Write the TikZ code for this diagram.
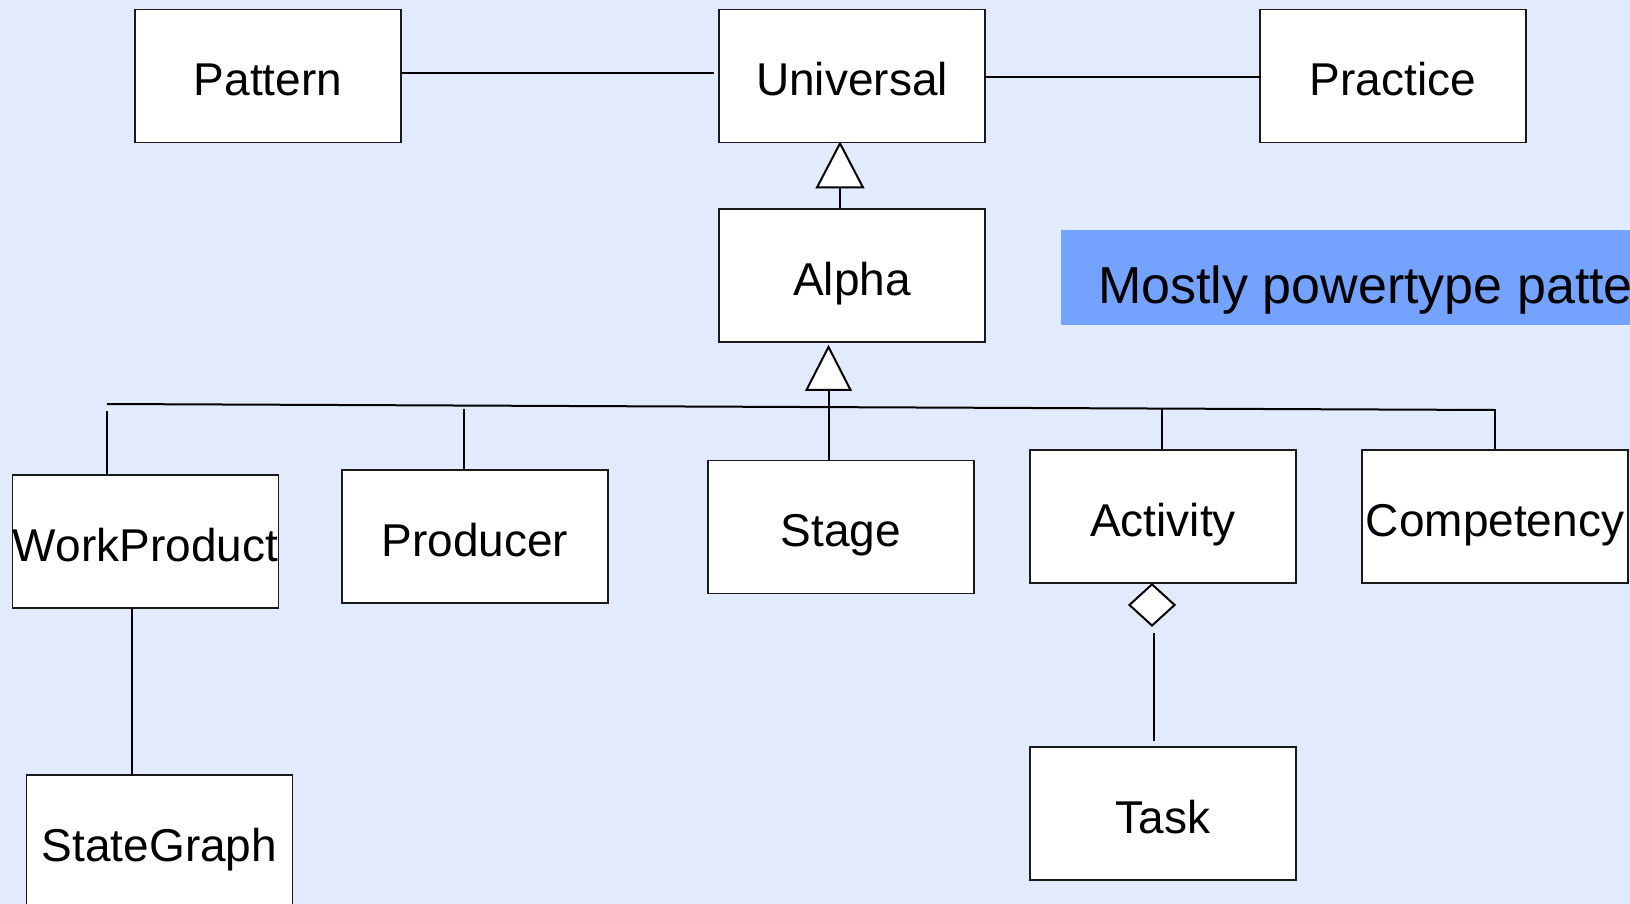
\documentclass[tikz,border=0pt]{standalone}
\usepackage{fontspec}
\setmainfont{Liberation Sans}
\usetikzlibrary{calc,shapes.geometric}
\definecolor{paper}{HTML}{E2EBFD}
\definecolor{banner}{HTML}{73A2FF}
\definecolor{edge}{HTML}{1A1A1A}
\tikzset{
  classbox/.style={draw=edge, fill=white, line width=1.9pt, rectangle,
    minimum width=266pt, minimum height=133pt, inner sep=0pt,
    text height=39pt, text depth=0pt,
    font=\fontsize{46}{50}\selectfont},
  link/.style={draw=black, line width=2pt},
  genhead/.style={draw=black, fill=white, line width=2pt, line join=miter},
  aggmark/.style={diamond, draw=black, fill=white, line width=2pt,
    minimum width=46pt, minimum height=42pt, inner sep=0pt}
}
\begin{document}
\begin{tikzpicture}[x=1pt,y=-1pt]
  \fill[paper] (0,0) rectangle (1630,904);
  \useasboundingbox (0,0) rectangle (1630,904);
  \clip (0,0) rectangle (1630,904);

  % heading banner on the right
  \fill[banner] (1061,230) rectangle (1640,325);
  \node[anchor=base west, inner sep=0pt, font=\fontsize{52}{56}\selectfont]
    (banner) at (1098,303) {Mostly powertype patte};

  % classes
  \node[classbox] (Pattern)     at (268,76)    {Pattern};
  \node[classbox] (Universal)   at (852,76)    {Universal};
  \node[classbox] (Practice)    at (1393,76)   {Practice};
  \node[classbox] (Alpha)       at (852,275.5) {Alpha};
  \node[classbox] (WorkProduct) at (145.5,541.5) {WorkProduct};
  \node[classbox] (Producer)    at (475,536.5) {Producer};
  \node[classbox] (Stage)       at (841,527)   {Stage};
  \node[classbox] (Activity)    at (1163,516.5) {Activity};
  \node[classbox] (Competency)  at (1495,516.5) {Competency};
  \node[classbox] (StateGraph)  at (159.5,841.5) {StateGraph};
  \node[classbox] (Task)        at (1163,813.5) {Task};

  % associations along the top row
  \draw[link] ($(Pattern.east)+(0,-3)$) -- ($(Universal.west)+(-4,-3)$);
  \draw[link] ($(Universal.east)+(-2,1)$) -- ($(Practice.east)+(-266,1)$);

  % Alpha specialises Universal
  \coordinate (gtip1) at ($(Universal.south)+(-12,0)$);
  \draw[link] (gtip1 |- Alpha.north) -- ($(gtip1)+(0,44)$);
  \draw[genhead] (gtip1) -- ++(23,44) -- ++(-46,0) -- cycle;

  % the alpha kinds specialise Alpha through a shared bar
  \coordinate (gtip2) at ($(Alpha.south)+(-23.5,4)$);
  \coordinate (barL) at (107,404);
  \coordinate (barR) at (1495,410);
  \draw[link] (barL) -- (barR);
  \draw[link] (gtip2 |- Stage.north) -- ($(gtip2)+(0,43)$);
  \draw[genhead] (gtip2) -- ++(22,43) -- ++(-44,0) -- cycle;
  \draw[link] (barL |- WorkProduct.north) -- ($(barL)+(0,7)$);
  \draw[link] ($(Producer.north)+(-11,0)$) -- ++(0,-60);
  \draw[link] ($(Activity.north)+(-1,0)$) -- ++(0,-41);
  \draw[link] (Competency.north) -- ++(0,-40);

  % WorkProduct owns a StateGraph
  \draw[link] ($(WorkProduct.south)+(-13.5,0)$) -- ($(StateGraph.north)+(-27.5,0)$);

  % Activity aggregates Tasks
  \node[aggmark] (agg) at ($(Activity.south)+(-11,21)$) {};
  \draw[link, shorten <=6pt, shorten >=5pt] ($(agg.south)+(2,0)$) -- ($(Task.north)+(-9,0)$);
\end{tikzpicture}
\end{document}
